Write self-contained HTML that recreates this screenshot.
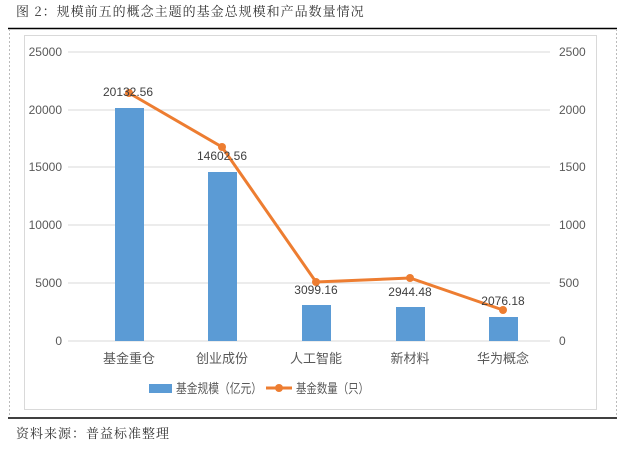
<!DOCTYPE html>
<html><head><meta charset="utf-8"><style>
body{margin:0;background:#fff;width:629px;height:445px;overflow:hidden}
svg text{font-family:"Liberation Sans","Noto Sans CJK SC",sans-serif}
</style></head><body>
<svg width="629" height="445" xmlns="http://www.w3.org/2000/svg">
<text x="16" y="16" font-size="13" fill="#333" style="font-family:'Noto Serif CJK SC',serif;letter-spacing:1px">图 2：规模前五的概念主题的基金总规模和产品数量情况</text>
<line x1="8" y1="28.5" x2="617" y2="28.5" stroke="#000" stroke-width="1.5"/>
<line x1="8" y1="418" x2="617" y2="418" stroke="#000" stroke-width="1.5"/>
<line x1="9.5" y1="29" x2="9.5" y2="417" stroke="#bbb" stroke-dasharray="2,2"/>
<line x1="616.5" y1="29" x2="616.5" y2="417" stroke="#bbb" stroke-dasharray="2,2"/>
<rect x="24.5" y="35.5" width="572" height="374" fill="none" stroke="#d9d9d9"/>
<g stroke="#d9d9d9">
<line x1="68" y1="52" x2="550" y2="52"/><line x1="68" y1="110" x2="550" y2="110"/>
<line x1="68" y1="167" x2="550" y2="167"/><line x1="68" y1="225" x2="550" y2="225"/>
<line x1="68" y1="283" x2="550" y2="283"/><line x1="68" y1="341" x2="550" y2="341"/>
</g>
<g font-size="12" fill="#595959" text-anchor="end">
<text x="62" y="56">25000</text><text x="62" y="114">20000</text><text x="62" y="171">15000</text>
<text x="62" y="229">10000</text><text x="62" y="287">5000</text><text x="62" y="345">0</text>
</g>
<g font-size="12" fill="#595959">
<text x="559" y="56">2500</text><text x="559" y="114">2000</text><text x="559" y="171">1500</text>
<text x="559" y="229">1000</text><text x="559" y="287">500</text><text x="559" y="345">0</text>
</g>
<g fill="#5b9bd5">
<rect x="115" y="108" width="29" height="233"/>
<rect x="208" y="172" width="29" height="169"/>
<rect x="302" y="305" width="29" height="36"/>
<rect x="396" y="307" width="29" height="34"/>
<rect x="489" y="317" width="29" height="24"/>
</g>
<polyline points="129,93 222,147 316,282 410,278 503,310" fill="none" stroke="#ed7d31" stroke-width="3"/>
<g fill="#ed7d31">
<circle cx="129" cy="93" r="4"/><circle cx="222" cy="147" r="4"/><circle cx="316" cy="282" r="4"/>
<circle cx="410" cy="278" r="4"/><circle cx="503" cy="310" r="4"/>
</g>
<g font-size="12" fill="#404040" text-anchor="middle">
<text x="128" y="96">20132.56</text><text x="222" y="160">14602.56</text>
<text x="316" y="294">3099.16</text><text x="410" y="296">2944.48</text><text x="503" y="305">2076.18</text>
</g>
<g font-size="13" fill="#595959" text-anchor="middle">
<text x="129" y="363">基金重仓</text><text x="222" y="363">创业成份</text><text x="316" y="363">人工智能</text>
<text x="410" y="363">新材料</text><text x="503" y="363">华为概念</text>
</g>
<rect x="149" y="384" width="23" height="9" fill="#5b9bd5"/>
<text x="176" y="393" font-size="13" fill="#595959" textLength="86" lengthAdjust="spacingAndGlyphs">基金规模（亿元）</text>
<line x1="266" y1="388" x2="292" y2="388" stroke="#ed7d31" stroke-width="3"/>
<circle cx="279" cy="388" r="4" fill="#ed7d31"/>
<text x="296" y="393" font-size="13" fill="#595959" textLength="73" lengthAdjust="spacingAndGlyphs">基金数量（只）</text>
<text x="16" y="438" font-size="13" fill="#333" style="font-family:'Noto Serif CJK SC',serif;letter-spacing:1px">资料来源：普益标准整理</text>
</svg>
</body></html>
